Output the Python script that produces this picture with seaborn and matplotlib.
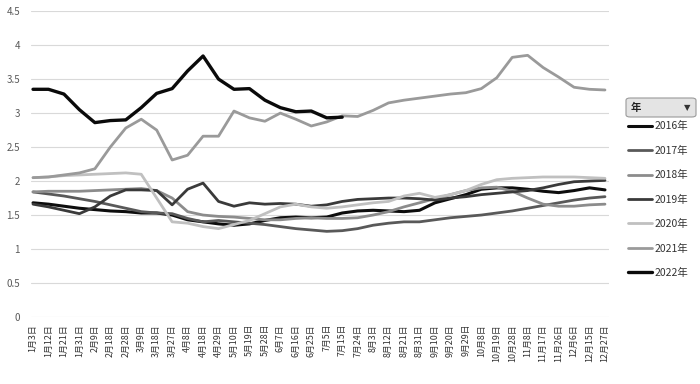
import numpy as np
import pandas as pd
import matplotlib
matplotlib.use("Agg")
import matplotlib.pyplot as plt
import seaborn as sns
from matplotlib.patches import FancyBboxPatch
from matplotlib.lines import Line2D

dates = ["1月3日", "1月12日", "1月21日", "1月31日", "2月9日", "2月18日", "2月28日", "3月9日",
         "3月18日", "3月27日", "4月8日", "4月18日", "4月29日", "5月10日", "5月19日", "5月28日",
         "6月7日", "6月16日", "6月25日", "7月5日", "7月15日", "7月24日", "8月3日", "8月12日",
         "8月21日", "8月31日", "9月10日", "9月20日", "9月29日", "10月8日", "10月19日", "10月28日",
         "11月8日", "11月17日", "11月26日", "12月6日", "12月15日", "12月27日"]

y2016 = [1.68, 1.66, 1.63, 1.60, 1.58, 1.56, 1.55, 1.53, 1.53, 1.50, 1.43, 1.40, 1.37, 1.35,
         1.37, 1.42, 1.46, 1.47, 1.46, 1.47, 1.53, 1.56, 1.57, 1.56, 1.55, 1.57, 1.68, 1.74,
         1.80, 1.88, 1.90, 1.90, 1.88, 1.85, 1.83, 1.86, 1.90, 1.87]
y2017 = [1.84, 1.81, 1.78, 1.74, 1.70, 1.65, 1.60, 1.55, 1.53, 1.52, 1.45, 1.40, 1.42, 1.40,
         1.38, 1.36, 1.33, 1.30, 1.28, 1.26, 1.27, 1.30, 1.35, 1.38, 1.40, 1.40, 1.43, 1.46,
         1.48, 1.50, 1.53, 1.56, 1.60, 1.64, 1.68, 1.72, 1.75, 1.77]
y2018 = [1.84, 1.85, 1.85, 1.85, 1.86, 1.87, 1.88, 1.89, 1.86, 1.75, 1.55, 1.50, 1.48, 1.47,
         1.45, 1.43, 1.43, 1.45, 1.46, 1.45, 1.45, 1.46, 1.50, 1.55, 1.62, 1.68, 1.74, 1.80,
         1.86, 1.90, 1.91, 1.85, 1.75, 1.66, 1.63, 1.63, 1.65, 1.66]
y2019 = [1.66, 1.62, 1.57, 1.52, 1.62, 1.78, 1.87, 1.87, 1.86, 1.65, 1.88, 1.97, 1.70, 1.63,
         1.68, 1.66, 1.67, 1.66, 1.63, 1.65, 1.70, 1.73, 1.74, 1.75, 1.75, 1.74, 1.72, 1.75,
         1.77, 1.80, 1.82, 1.84, 1.86, 1.90, 1.95, 1.99, 2.00, 2.01]
y2020 = [2.05, 2.06, 2.08, 2.09, 2.10, 2.11, 2.12, 2.10, 1.75, 1.40, 1.38, 1.33, 1.30, 1.36,
         1.42, 1.52, 1.62, 1.66, 1.62, 1.60, 1.62, 1.65, 1.68, 1.70, 1.78, 1.82, 1.76, 1.80,
         1.86, 1.95, 2.02, 2.04, 2.05, 2.06, 2.06, 2.06, 2.05, 2.04]
y2021 = [2.05, 2.06, 2.09, 2.12, 2.18, 2.50, 2.78, 2.91, 2.75, 2.31, 2.38, 2.66, 2.66, 3.03,
         2.93, 2.88, 3.00, 2.91, 2.81, 2.87, 2.96, 2.95, 3.04, 3.15, 3.19, 3.22, 3.25, 3.28,
         3.30, 3.36, 3.52, 3.82, 3.85, 3.67, 3.53, 3.38, 3.35, 3.34]
y2022 = [3.35, 3.35, 3.28, 3.05, 2.86, 2.89, 2.90, 3.08, 3.29, 3.36, 3.62, 3.84, 3.50, 3.35,
         3.36, 3.19, 3.08, 3.02, 3.03, 2.93, 2.94]

years = ["2016年", "2017年", "2018年", "2019年", "2020年", "2021年", "2022年"]
series = [y2016, y2017, y2018, y2019, y2020, y2021, y2022]
yticks = [0, 0.5, 1, 1.5, 2, 2.5, 3, 3.5, 4, 4.5]
ytick_labels = ["0", "0.5", "1", "1.5", "2", "2.5", "3", "3.5", "4", "4.5"]

rows = []
for yr, vals in zip(years, series):
    for i, v in enumerate(vals):
        rows.append({"idx": i, "value": v, "year": yr})
df = pd.DataFrame(rows)

palette = {"2016年": "#0d0d0d", "2017年": "#595959", "2018年": "#8c8c8c", "2019年": "#3a3a3a",
           "2020年": "#c0c0c0", "2021年": "#9a9a9a", "2022年": "#0a0a0a"}
widths = {"2016年": 2.2, "2017年": 2.0, "2018年": 2.0, "2019年": 2.0,
          "2020年": 2.0, "2021年": 2.0, "2022年": 2.4}

sns.set_theme(style="white")
plt.rcParams["font.family"] = ["Noto Sans CJK SC", "DejaVu Sans"]

fig = plt.figure(figsize=(7.0, 3.84), dpi=100)
ax = fig.add_axes([0.0443, 0.1745, 0.8257, 0.7965])

for yr in years:
    sub = df[df["year"] == yr]
    sns.lineplot(data=sub, x="idx", y="value", color=palette[yr], lw=widths[yr],
                 ax=ax, legend=False, sort=False)

ax.set_xlim(-0.13, 37.26)
ax.set_ylim(0, 4.5)
ax.set_yticks(yticks)
ax.set_yticklabels(ytick_labels, fontsize=7, color="#595959")
ax.set_xticks(range(len(dates)))
ax.set_xticklabels(dates, rotation=90, fontsize=6.4, color="#333333")
ax.tick_params(axis="y", length=0, pad=8)
ax.tick_params(axis="x", length=0, pad=5)
ax.set_xlabel("")
ax.set_ylabel("")
ax.grid(axis="y", color="#d9d9d9", lw=0.8)
ax.grid(axis="x", visible=False)
ax.set_axisbelow(True)
for s in ax.spines.values():
    s.set_visible(False)

# legend
handles = [Line2D([0], [0], color=palette[y], lw=widths[y]) for y in years]
leg = fig.legend(handles, years, loc="upper left",
                 bbox_to_anchor=(624 / 700, 1 - 117 / 384), frameon=False,
                 fontsize=7.5, handlelength=2.3, handletextpad=0.2,
                 labelspacing=1.38, borderaxespad=0)
for t in leg.get_texts():
    t.set_color("#333333")

# field button "年"
box = FancyBboxPatch((626 / 700, 1 - 117 / 384), 70 / 700, 19 / 384,
                     boxstyle="round,pad=0,rounding_size=0.006",
                     transform=fig.transFigure, facecolor="#e4e4e4",
                     edgecolor="#9a9a9a", lw=0.8)
fig.patches.append(box)
fig.text(631 / 700, 1 - 107.5 / 384, "年", fontsize=7.5, color="#222222",
         va="center", ha="left", fontweight="bold")
fig.text(690 / 700, 1 - 107.5 / 384, "▼", fontsize=6, color="#333333",
         va="center", ha="right", family=["DejaVu Sans"])

fig.savefig("out.png", dpi=100)
